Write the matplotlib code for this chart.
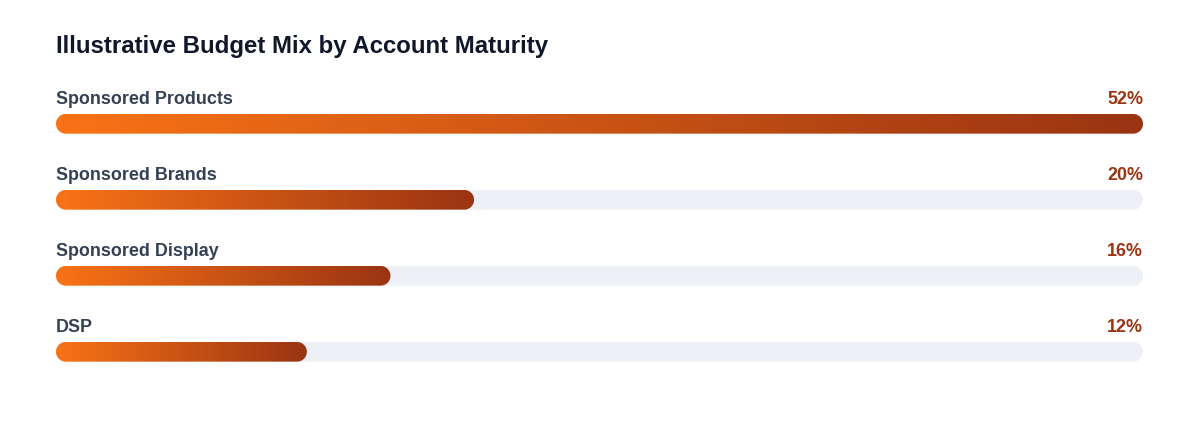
import matplotlib
matplotlib.use("Agg")
import matplotlib.pyplot as plt
import numpy as np
from matplotlib.patches import PathPatch
from matplotlib.path import Path
from matplotlib.colors import LinearSegmentedColormap

title = "Illustrative Budget Mix by Account Maturity"
categories = ["Sponsored Products", "Sponsored Brands", "Sponsored Display", "DSP"]
values = [52, 20, 16, 12]
value_labels = ["52%", "20%", "16%", "12%"]

plt.rcParams['font.family'] = ['Liberation Sans', 'DejaVu Sans']

W, H = 1200, 432
fig = plt.figure(figsize=(W / 100, H / 100), dpi=100)
fig.patch.set_facecolor("white")

# layout in pixels
left_px, right_px = 56, 1143
first_center_px, spacing_px = 123.8, 76
bar_h_px = 19.7
n = len(categories)
top_px = first_center_px - spacing_px / 2
bottom_px = top_px + n * spacing_px

ax = fig.add_axes([left_px / W, 1 - bottom_px / H, (right_px - left_px) / W, (bottom_px - top_px) / H])
vmax = max(values)
ax.set_xlim(0, vmax)
ax.set_ylim(n - 0.5, -0.5)
ax.axis("off")

x_per_px = vmax / (right_px - left_px)
y_per_px = 1.0 / spacing_px
bar_h = bar_h_px * y_per_px
rx = (bar_h_px / 2) * x_per_px
ry = bar_h / 2


def pill(x0, x1, yc):
    rxx = min(rx, (x1 - x0) / 2)
    t1 = np.linspace(np.pi / 2, 3 * np.pi / 2, 40)   # left cap
    t2 = np.linspace(-np.pi / 2, np.pi / 2, 40)      # right cap
    lx = x0 + rxx + rxx * np.cos(t1)
    ly = yc + ry * np.sin(t1)
    rxs = x1 - rxx + rxx * np.cos(t2)
    rys = yc + ry * np.sin(t2)
    xs = np.concatenate([lx, rxs, [lx[0]]])
    ys = np.concatenate([ly, rys, [ly[0]]])
    codes = [Path.MOVETO] + [Path.LINETO] * (len(xs) - 2) + [Path.CLOSEPOLY]
    return Path(np.column_stack([xs, ys]), codes)


cmap = LinearSegmentedColormap.from_list("og", ["#f97316", "#9a3412"])
grad = np.linspace(0, 1, 256).reshape(1, -1)

for i, (cat, v, lab) in enumerate(zip(categories, values, value_labels)):
    track = PathPatch(pill(0, vmax, i), facecolor="#edf0f4", edgecolor="none", zorder=1)
    ax.add_patch(track)
    bar = PathPatch(pill(0, v, i), facecolor="none", edgecolor="none", zorder=2)
    ax.add_patch(bar)
    im = ax.imshow(grad, cmap=cmap, aspect="auto", interpolation="bicubic",
                   extent=[0, v, i + bar_h / 2, i - bar_h / 2], zorder=2)
    im.set_clip_path(bar)
    ax.annotate(cat, xy=(0, i - bar_h / 2), xytext=(0, 7.2), textcoords="offset points",
                ha="left", va="baseline", fontsize=12.9, fontweight="bold", color="#334155")
    ax.annotate(lab, xy=(vmax, i - bar_h / 2), xytext=(0, 7.2), textcoords="offset points",
                ha="right", va="baseline", fontsize=12.9, fontweight="bold", color="#9a3412")

ax.set_xlim(0, vmax)
ax.set_ylim(n - 0.5, -0.5)

fig.text(left_px / W, 1 - 52.5 / H, title, ha="left", va="baseline",
         fontsize=17.3, fontweight="bold", color="#0f172a")

fig.savefig("out.png", dpi=100, facecolor="white")
